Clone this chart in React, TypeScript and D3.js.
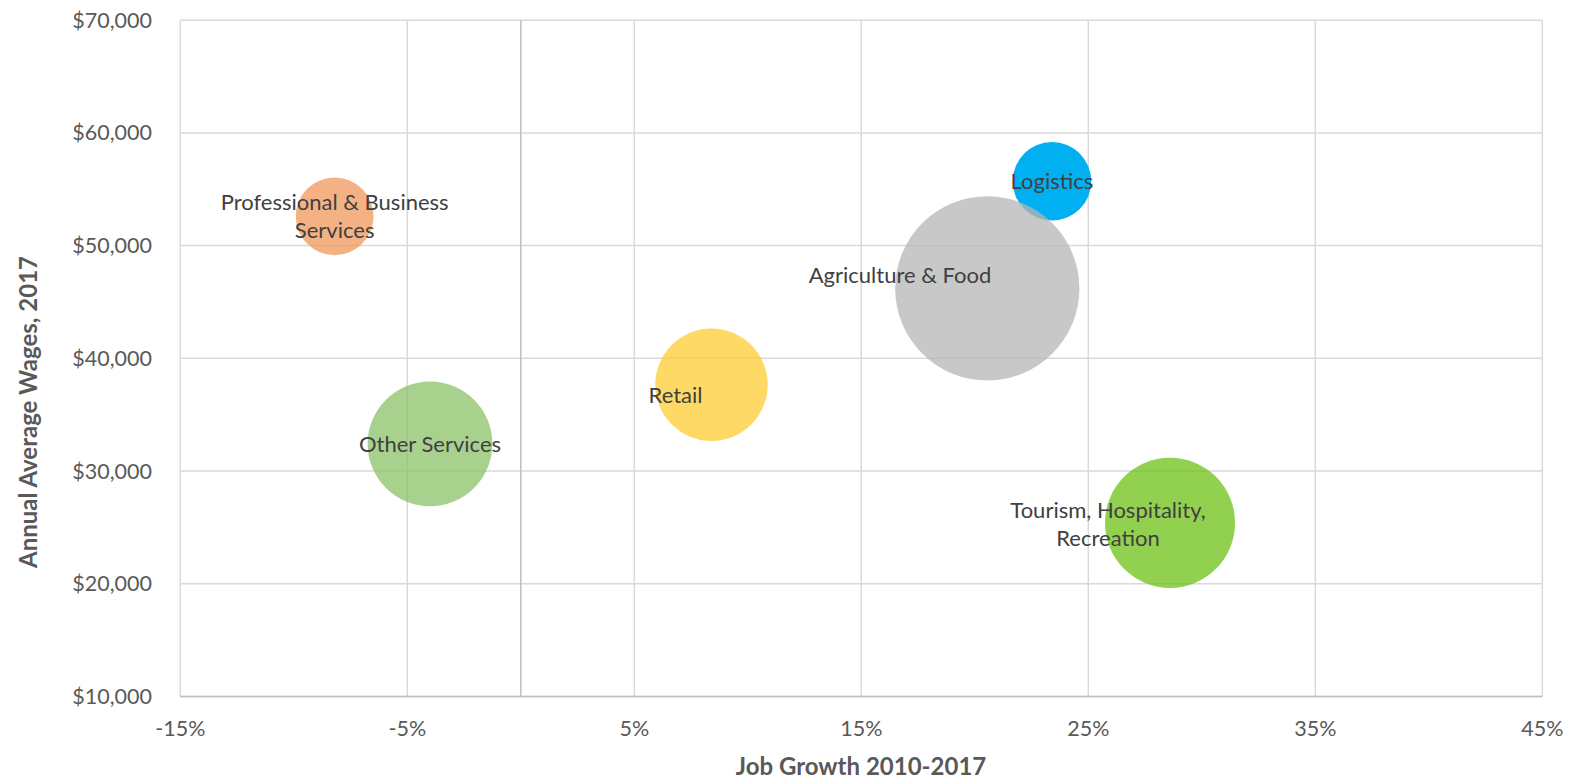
import React from "react";
import * as d3 from "d3";

// industries shown as bubbles (drawing order: Agriculture after Logistics)
const industries = [
  "Professional & Business Services",
  "Other Services",
  "Retail",
  "Logistics",
  "Agriculture & Food",
  "Tourism, Hospitality, Recreation",
];
const jobGrowth = [-0.082, -0.04, 0.084, 0.234, 0.2055, 0.286];
const avgWages = [52600, 32400, 37650, 55700, 46200, 25400];
const employment = [1510, 3890, 3160, 1540, 8480, 4230];

const labelLines = [
  ["Professional & Business", "Services"],
  ["Other Services"],
  ["Retail"],
  ["Logistics"],
  ["Agriculture & Food"],
  ["Tourism, Hospitality,", "Recreation"],
];

const xTicks = [-0.15, -0.05, 0.05, 0.15, 0.25, 0.35, 0.45];
const yTicks = [10000, 20000, 30000, 40000, 50000, 60000, 70000];

// styling / label placement
const colors = ["#F0975A", "#8CC268", "#FFCC33", "#00B0F0", "#B6B6B6", "#6EC016"];
const opacities = [0.75, 0.75, 0.75, 1, 0.75, 0.75];
const labelAnchor = ["middle", "middle", "end", "middle", "end", "middle"];
const labelDx = [0, 0, -9, 0, 4, -62];
const labelDy = [0, 0, 11, 0, -13, 1];

const W = 1591;
const H = 781;
const font = "Lato, 'Open Sans', sans-serif";

export default function App() {
  const x = d3.scaleLinear().domain([-0.15, 0.45]).range([180.3, 1542.3]);
  const y = d3.scaleLinear().domain([10000, 70000]).range([696.4, 20.2]);
  const r = d3
    .scaleSqrt()
    .domain([0, d3.max(employment) as number])
    .range([0, 92.1]);

  const pct = (v: number) => d3.format(".0%")(v).replace("\u2212", "-");
  const dollars = (v: number) => "$" + d3.format(",")(v);
  const lineH = 28;

  return (
    <div style={{ position: "absolute", left: 0, top: 0 }}>
      <svg width={W} height={H} style={{ display: "block", background: "#fff" }}>
        {/* gridlines */}
        {yTicks.map((t) => (
          <line
            key={"gy" + t}
            x1={x(-0.15)}
            x2={x(0.45)}
            y1={y(t)}
            y2={y(t)}
            stroke="#d9d9d9"
            strokeWidth={1.5}
          />
        ))}
        {xTicks.map((t) => (
          <line
            key={"gx" + t}
            x1={x(t)}
            x2={x(t)}
            y1={y(10000)}
            y2={y(70000)}
            stroke="#d9d9d9"
            strokeWidth={1.5}
          />
        ))}
        {/* axis lines */}
        <line x1={x(0)} x2={x(0)} y1={y(10000)} y2={y(70000)} stroke="#bfbfbf" strokeWidth={1.5} />
        <line x1={x(-0.15)} x2={x(0.45)} y1={y(10000)} y2={y(10000)} stroke="#bfbfbf" strokeWidth={1.5} />

        {/* bubbles */}
        {industries.map((name, i) => (
          <circle
            key={name}
            cx={x(jobGrowth[i])}
            cy={y(avgWages[i])}
            r={r(employment[i])}
            fill={colors[i]}
            fillOpacity={opacities[i]}
          />
        ))}

        {/* data labels */}
        {industries.map((name, i) => {
          const lines = labelLines[i];
          const cx = x(jobGrowth[i]) + labelDx[i];
          const cy = y(avgWages[i]) + labelDy[i];
          const top = cy - ((lines.length - 1) * lineH) / 2;
          return (
            <text
              key={"l" + name}
              fontFamily={font}
              fontSize={22}
              fill="#404040"
              textAnchor={labelAnchor[i]}
            >
              {lines.map((ln, k) => (
                <tspan key={k} x={cx} y={top + k * lineH} dy="0.35em">
                  {ln}
                </tspan>
              ))}
            </text>
          );
        })}

        {/* y tick labels */}
        {yTicks.map((t) => (
          <text
            key={"ty" + t}
            x={152}
            y={y(t)}
            dy="0.35em"
            textAnchor="end"
            fontFamily={font}
            fontSize={21.5}
            fill="#595959"
          >
            {dollars(t)}
          </text>
        ))}
        {/* x tick labels */}
        {xTicks.map((t) => (
          <text
            key={"tx" + t}
            x={x(t)}
            y={728}
            dy="0.35em"
            textAnchor="middle"
            fontFamily={font}
            fontSize={21.5}
            fill="#595959"
          >
            {pct(t)}
          </text>
        ))}

        {/* axis titles */}
        <text
          x={861}
          y={767}
          dy="0.35em"
          textAnchor="middle"
          fontFamily={font}
          fontSize={24}
          fontWeight="bold"
          fill="#595959"
        >
          Job Growth 2010-2017
        </text>
        <text
          transform="translate(29,412) rotate(-90)"
          dy="0.35em"
          textAnchor="middle"
          fontFamily={font}
          fontSize={24}
          fontWeight="bold"
          fill="#595959"
        >
          Annual Average Wages, 2017
        </text>
      </svg>
    </div>
  );
}
